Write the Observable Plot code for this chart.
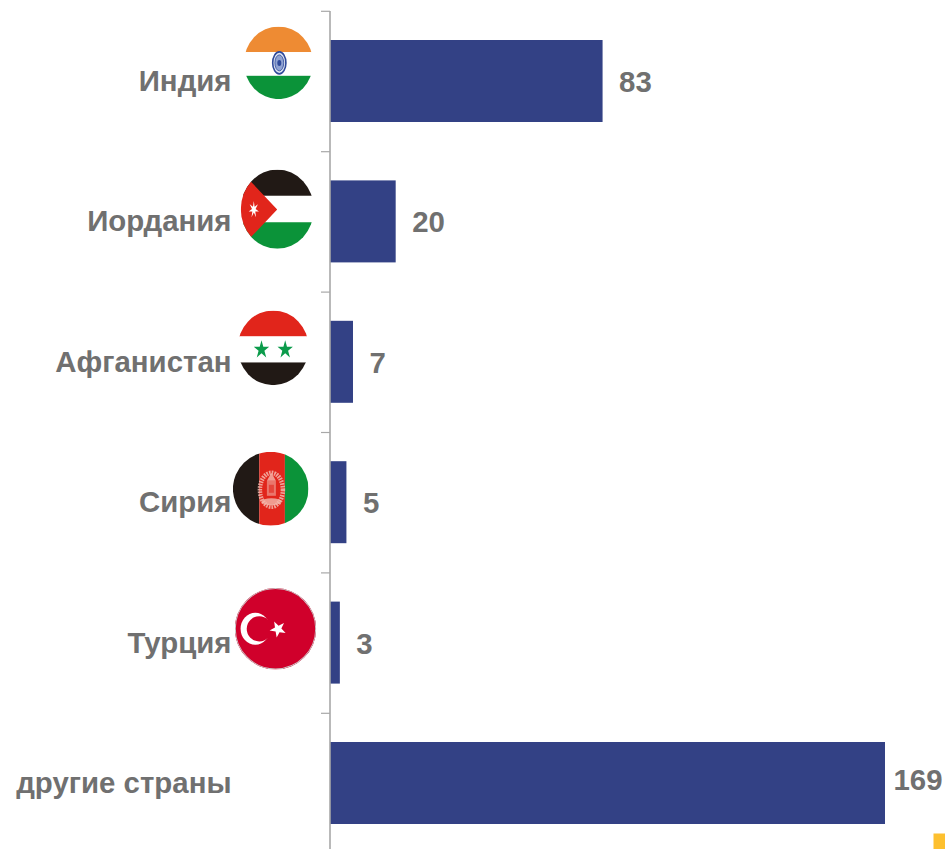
<!DOCTYPE html>
<html lang="ru">
<head>
<meta charset="utf-8">
<script src="https://cdn.jsdelivr.net/npm/d3@7"></script>
<script src="https://cdn.jsdelivr.net/npm/@observablehq/plot@0.6"></script>
<style>
html,body{margin:0;padding:0;background:#fff;overflow:hidden}
</style>
</head>
<body>
<div id="chart"></div>
<script>
const countries = ["Индия", "Иордания", "Афганистан", "Сирия", "Турция", "другие страны"];
const counts = [83, 20, 7, 5, 3, 169];
const rows = countries.map((country, i) => ({country, count: counts[i]}));

function starPath(cx, cy, outer, inner, n, sx = 1, rot = 0) {
  const pts = [];
  for (let i = 0; i < n * 2; i++) {
    const r = i % 2 ? inner : outer, a = -Math.PI / 2 + rot + i * Math.PI / n;
    pts.push((cx + sx * r * Math.cos(a)).toFixed(2) + "," + (cy + r * Math.sin(a)).toFixed(2));
  }
  return `<polygon points="${pts.join(" ")}"`;
}
function flagUri(w, h, body) {
  const svg = `<svg xmlns="http://www.w3.org/2000/svg" width="${w}" height="${h}" viewBox="0 0 ${w} ${h}"><defs><clipPath id="c"><ellipse cx="${w/2}" cy="${h/2}" rx="${w/2}" ry="${h/2}"/></clipPath></defs><g clip-path="url(#c)">${body}</g></svg>`;
  return "data:image/svg+xml;charset=utf-8," + encodeURIComponent(svg);
}
function rect(x, y, w, h, fill) { return `<rect x="${x}" y="${y}" width="${w}" height="${h}" fill="${fill}"/>`; }

const GREEN = "#0b9339", RED = "#e1251b", BLACK = "#211915";

function chakra() {
  let s = `<ellipse cx="35.3" cy="36.4" rx="6.6" ry="11" fill="#dfe5f2" stroke="#2f4a9b" stroke-width="1.6"/>`;
  s += `<ellipse cx="35.3" cy="36.4" rx="4.4" ry="8" fill="#8fa2d2" stroke="#2f4a9b" stroke-width="0.8"/>`;
  s += `<ellipse cx="35.3" cy="36.4" rx="2" ry="3" fill="#2f4a9b"/>`;
  return s;
}
function emblem() {
  const c = "#f3b9ae";
  let s = `<ellipse cx="38.5" cy="38" rx="11.5" ry="17" fill="none" stroke="${c}" stroke-width="4.5" stroke-dasharray="1.6 1" opacity="0.85"/>`;
  s += `<rect x="34" y="29" width="9" height="15" fill="${c}" opacity="0.55"/>`;
  s += `<rect x="36" y="33" width="5" height="8" fill="${RED}" opacity="0.6"/>`;
  s += `<path d="M34 29 L38.5 21 L43 29Z" fill="${c}" opacity="0.8"/>`;
  s += `<ellipse cx="38.5" cy="50" rx="10" ry="3.5" fill="${c}" opacity="0.8"/>`;
  return s;
}

const flags = [
  {country: "Индия", w: 69, h: 72.6, cx: 278, cy: 62.3,
   body: rect(0,0,69,25.6,"#ee8b33") + rect(0,25.6,69,23.7,"#fff") + rect(0,49.3,69,24,GREEN) + chakra()},
  {country: "Иордания", w: 73, h: 79.3, cx: 276.8, cy: 208.7,
   body: rect(0,0,73,26.3,BLACK) + rect(0,26.3,73,26.4,"#fff") + rect(0,52.7,73,27,GREEN)
     + `<polygon points="36.4,40 10.7,12.7 -1,0 -1,80 10.7,67" fill="${RED}"/>`
     + starPath(13,40,8.5,3,7,0.62) + ` fill="#fff"/>`},
  {country: "Афганистан", w: 71, h: 74.7, cx: 272.7, cy: 347.3,
   body: rect(0,0,71,26,RED) + rect(0,26,71,26,"#fff") + rect(0,52,71,23,BLACK)
     + starPath(23.8,39.3,9.5,3.6,5,0.85) + ` fill="#0b9b4b"/>` + starPath(47.5,39.3,9.5,3.6,5,0.85) + ` fill="#0b9b4b"/>`},
  {country: "Сирия", w: 75.6, h: 74, cx: 270.2, cy: 488.3,
   body: rect(0,0,26.4,74,BLACK) + rect(26.4,0,25.6,74,RED) + rect(52,0,24,74,GREEN) + emblem()},
  {country: "Турция", w: 81.4, h: 81.4, cx: 275, cy: 628.3,
   body: rect(0,0,82,82,"#d0002b")
     + `<ellipse cx="20.5" cy="40.7" rx="14.7" ry="16" fill="#fff"/>`
     + `<circle cx="24.5" cy="40.7" r="12.6" fill="#d0002b"/>`
     + starPath(43.2,41,8.5,3.4,5,1,Math.PI / 10 * 2.5) + ` fill="#fff"/>`
     + `<ellipse cx="40.7" cy="40.7" rx="40.2" ry="40.2" fill="none" stroke="#c9c9c9" stroke-width="1"/>`},
];

const axisX = 330, pxBand = 140.4, topY = 10.8, H = 849;
const labelColor = "#707070";
const labelSize = 29.4;
const bandY = (c) => topY + pxBand * (countries.indexOf(c) + 0.5);

const flagMarks = flags.map(f => Plot.image([f], {
  y: "country",
  frameAnchor: "left",
  src: flagUri(f.w, f.h, f.body),
  width: f.w,
  height: f.h,
  dx: f.cx - axisX,
  dy: f.cy - bandY(f.country),
  preserveAspectRatio: "none"
}));

const chart = Plot.plot({
  width: 945,
  height: H,
  marginLeft: axisX,
  marginRight: 60,
  marginTop: 11,
  marginBottom: 0,
  style: {fontFamily: "'Liberation Sans', Arial, sans-serif", background: "#fff", overflow: "visible"},
  x: {domain: [0, 169], axis: null},
  y: {domain: countries, range: [topY, topY + pxBand * countries.length], round: false, paddingInner: 0.416, paddingOuter: 0.208, axis: null},
  marks: [
    Plot.barX(rows, {x: "count", y: "country", fill: "#334185"}),
    Plot.ruleX([0], {stroke: "#a8a8a8", strokeWidth: 1.6, dx: -0.5}),
    Plot.axisY({anchor: "left", label: null, text: null, tickSize: 9, stroke: "#a8a8a8", strokeWidth: 1.2, dy: -pxBand / 2}),
    Plot.axisY({anchor: "left", label: null, tickSize: 0, tickPadding: 99, fontSize: labelSize, fontWeight: "bold", fill: labelColor}),
    ...flagMarks,
    Plot.text(rows.filter(d => d.count < 100), {x: "count", y: "country", text: d => String(d.count), dx: 16, dy: 1, textAnchor: "start", fontSize: labelSize, fontWeight: "bold", fill: labelColor}),
    Plot.text(rows.filter(d => d.count >= 100), {x: "count", y: "country", text: d => String(d.count), dx: 8, dy: -3, textAnchor: "start", fontSize: labelSize, fontWeight: "bold", fill: labelColor}),
    Plot.dot([0], {frameAnchor: "bottom-right", symbol: "square", r: 9.03, fill: "#fdc02f", dx: 56, dy: -8})
  ]
});
document.getElementById("chart").appendChild(chart);
</script>
</body>
</html>
